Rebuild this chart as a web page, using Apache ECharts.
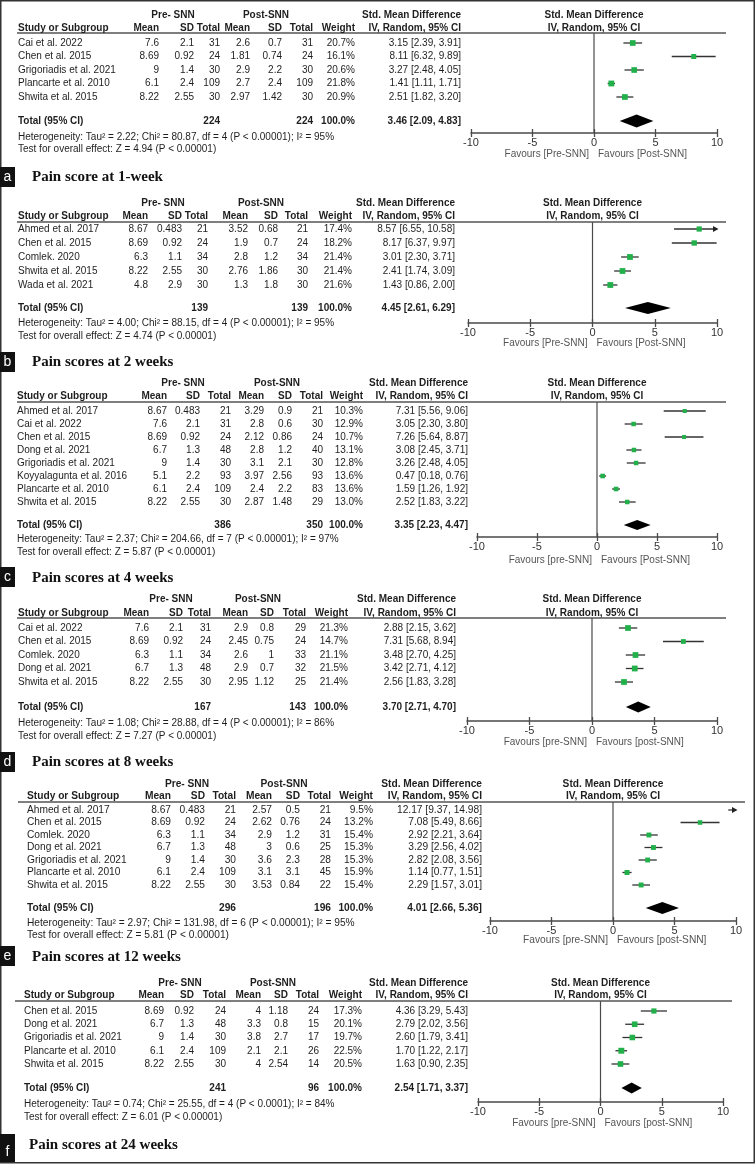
<!DOCTYPE html>
<html><head><meta charset="utf-8">
<script src="https://cdn.jsdelivr.net/npm/echarts@6/dist/echarts.min.js"></script>
<style>html,body{margin:0;padding:0;background:#fff}#c{width:756px;height:1164px}</style>
</head><body><div id="c"></div>
<script>
// ---------------- DATA ----------------
const panelLabels = ['a','b','c','d','e','f'];
const panelTitles = ['Pain score at 1-week','Pain scores at 2 weeks','Pain scores at 4 weeks','Pain scores at 8 weeks','Pain scores at 12 weeks','Pain scores at 24 weeks'];
const studies = [
  ['Cai et al. 2022','Chen et al. 2015','Grigoriadis et al. 2021','Plancarte et al. 2010','Shwita et al. 2015'],
  ['Ahmed et al. 2017','Chen et al. 2015','Comlek. 2020','Shwita et al. 2015','Wada et al. 2021'],
  ['Ahmed et al. 2017','Cai et al. 2022','Chen et al. 2015','Dong et al. 2021','Grigoriadis et al. 2021','Koyyalagunta et al. 2016','Plancarte et al. 2010','Shwita et al. 2015'],
  ['Cai et al. 2022','Chen et al. 2015','Comlek. 2020','Dong et al. 2021','Shwita et al. 2015'],
  ['Ahmed et al. 2017','Chen et al. 2015','Comlek. 2020','Dong et al. 2021','Grigoriadis et al. 2021','Plancarte et al. 2010','Shwita et al. 2015'],
  ['Chen et al. 2015','Dong et al. 2021','Grigoriadis et al. 2021','Plancarte et al. 2010','Shwita et al. 2015']
];
const preMean = [[7.6,8.69,9,6.1,8.22],[8.67,8.69,6.3,8.22,4.8],[8.67,7.6,8.69,6.7,9,5.1,6.1,8.22],[7.6,8.69,6.3,6.7,8.22],[8.67,8.69,6.3,6.7,9,6.1,8.22],[8.69,6.7,9,6.1,8.22]];
const preSD   = [[2.1,0.92,1.4,2.4,2.55],[0.483,0.92,1.1,2.55,2.9],[0.483,2.1,0.92,1.3,1.4,2.2,2.4,2.55],[2.1,0.92,1.1,1.3,2.55],[0.483,0.92,1.1,1.3,1.4,2.4,2.55],[0.92,1.3,1.4,2.4,2.55]];
const preN    = [[31,24,30,109,30],[21,24,34,30,30],[21,31,24,48,30,93,109,30],[31,24,34,48,30],[21,24,34,48,30,109,30],[24,48,30,109,30]];
const postMean= [[2.6,1.81,2.9,2.7,2.97],[3.52,1.9,2.8,2.76,1.3],[3.29,2.8,2.12,2.8,3.1,3.97,2.4,2.87],[2.9,2.45,2.6,2.9,2.95],[2.57,2.62,2.9,3,3.6,3.1,3.53],[4,3.3,3.8,2.1,4]];
const postSD  = [[0.7,0.74,2.2,2.4,1.42],[0.68,0.7,1.2,1.86,1.8],[0.9,0.6,0.86,1.2,2.1,2.56,2.2,1.48],[0.8,0.75,1,0.7,1.12],[0.5,0.76,1.2,0.6,2.3,3.1,0.84],[1.18,0.8,2.7,2.1,2.54]];
const postN   = [[31,24,30,109,30],[21,24,34,30,30],[21,30,24,40,30,93,83,29],[29,24,33,32,25],[21,24,31,25,28,45,22],[24,15,17,26,14]];
const weight  = [[20.7,16.1,20.6,21.8,20.9],[17.4,18.2,21.4,21.4,21.6],[10.3,12.9,10.7,13.1,12.8,13.6,13.6,13.0],[21.3,14.7,21.1,21.5,21.4],[9.5,13.2,15.4,15.3,15.3,15.9,15.4],[17.3,20.1,19.7,22.5,20.5]];
const smd     = [[3.15,8.11,3.27,1.41,2.51],[8.57,8.17,3.01,2.41,1.43],[7.31,3.05,7.26,3.08,3.26,0.47,1.59,2.52],[2.88,7.31,3.48,3.42,2.56],[12.17,7.08,2.92,3.29,2.82,1.14,2.29],[4.36,2.79,2.60,1.70,1.63]];
const ciLo    = [[2.39,6.32,2.48,1.11,1.82],[6.55,6.37,2.30,1.74,0.86],[5.56,2.30,5.64,2.45,2.48,0.18,1.26,1.83],[2.15,5.68,2.70,2.71,1.83],[9.37,5.49,2.21,2.56,2.08,0.77,1.57],[3.29,2.02,1.79,1.22,0.90]];
const ciHi    = [[3.91,9.89,4.05,1.71,3.20],[10.58,9.97,3.71,3.09,2.00],[9.06,3.80,8.87,3.71,4.05,0.76,1.92,3.22],[3.62,8.94,4.25,4.12,3.28],[14.98,8.66,3.64,4.02,3.56,1.51,3.01],[5.43,3.56,3.41,2.17,2.35]];
const totalPre  = [224,139,386,167,296,241];
const totalPost = [224,139,350,143,196,96];
const totalSmd  = [3.46,4.45,3.35,3.70,4.01,2.54];
const totalLo   = [2.09,2.61,2.23,2.71,2.66,1.71];
const totalHi   = [4.83,6.29,4.47,4.70,5.36,3.37];
const hetText = [
  'Heterogeneity: Tau\u00b2 = 2.22; Chi\u00b2 = 80.87, df = 4 (P < 0.00001); I\u00b2 = 95%',
  'Heterogeneity: Tau\u00b2 = 4.00; Chi\u00b2 = 88.15, df = 4 (P < 0.00001); I\u00b2 = 95%',
  'Heterogeneity: Tau\u00b2 = 2.37; Chi\u00b2 = 204.66, df = 7 (P < 0.00001); I\u00b2 = 97%',
  'Heterogeneity: Tau\u00b2 = 1.08; Chi\u00b2 = 28.88, df = 4 (P < 0.00001); I\u00b2 = 86%',
  'Heterogeneity: Tau\u00b2 = 2.97; Chi\u00b2 = 131.98, df = 6 (P < 0.00001); I\u00b2 = 95%',
  'Heterogeneity: Tau\u00b2 = 0.74; Chi\u00b2 = 25.55, df = 4 (P < 0.0001); I\u00b2 = 84%'
];
const testText = [
  'Test for overall effect: Z = 4.94 (P < 0.00001)',
  'Test for overall effect: Z = 4.74 (P < 0.00001)',
  'Test for overall effect: Z = 5.87 (P < 0.00001)',
  'Test for overall effect: Z = 7.27 (P < 0.00001)',
  'Test for overall effect: Z = 5.81 (P < 0.00001)',
  'Test for overall effect: Z = 6.01 (P < 0.00001)'
];
const favLeft  = ['Favours [Pre-SNN]','Favours [Pre-SNN]','Favours [pre-SNN]','Favours [pre-SNN]','Favours [pre-SNN]','Favours [pre-SNN]'];
const favRight = ['Favours [Post-SNN]','Favours [Post-SNN]','Favours [Post-SNN]','Favours [post-SNN]','Favours [post-SNN]','Favours [post-SNN]'];
const xTickValues = [-10,-5,0,5,10];
const colHeads = ['Mean','SD','Total','Mean','SD','Total','Weight'];

// ---------------- LAYOUT (pixel positions) ----------------
const L = [
 {hdr1:15,hdr2:28,line:33,lineL:17,lineR:726,row0:43,rowH:13.5,totY:121,hetY:137,testY:149,axisY:133,favY:154,xL:471,xR:717,studyX:18,cols:[159,194,220,250,282,313,355],ciR:461,preC:173,postC:266,titleX:32,titleY:177,boxY:167,boxH:20,diaH:13,fs:10},
 {hdr1:203,hdr2:216,line:222,lineL:17,lineR:726,row0:229,rowH:14,totY:308,hetY:323,testY:336,axisY:323,favY:343,xL:468,xR:717,studyX:18,cols:[148,182,208,248,278,308,352],ciR:455,preC:163,postC:261,titleX:32,titleY:362,boxY:352,boxH:20,diaH:12,fs:10},
 {hdr1:383,hdr2:396,line:402,lineL:17,lineR:726,row0:411,rowH:13,totY:525,hetY:539,testY:552,axisY:537,favY:560,xL:477,xR:717,studyX:17,cols:[167,200,231,264,292,323,363],ciR:468,preC:183,postC:277,titleX:32,titleY:578,boxY:567,boxH:20,diaH:10,fs:10},
 {hdr1:599,hdr2:613,line:618,lineL:17,lineR:726,row0:628,rowH:13.5,totY:707,hetY:723,testY:736,axisY:721,favY:742,xL:467,xR:717,studyX:18,cols:[149,183,211,248,274,306,348],ciR:456,preC:171,postC:258,titleX:32,titleY:762,boxY:752,boxH:20,diaH:11,fs:10},
 {hdr1:784,hdr2:796,line:802,lineL:18,lineR:745,row0:810,rowH:12.5,totY:908,hetY:923,testY:935,axisY:921,favY:940,xL:490,xR:736,studyX:27,cols:[171,205,236,272,300,331,373],ciR:482,preC:187,postC:284,titleX:32,titleY:957,boxY:946,boxH:20,diaH:12,fs:10.2},
 {hdr1:983,hdr2:995,line:1001,lineL:15,lineR:732,row0:1011,rowH:13.25,totY:1088,hetY:1104,testY:1117,axisY:1102,favY:1123,xL:478,xR:723,studyX:24,cols:[164,194,226,261,288,319,362],ciR:468,preC:180,postC:273,titleX:29,titleY:1145,boxY:1134,boxH:28,diaH:11,fs:10}
];

// ---------------- BUILD ----------------
const FONT = '"Liberation Sans", Arial, Helvetica, sans-serif';
const SERIF = '"Liberation Serif", "Times New Roman", serif';
const INK = '#1e1e1e';
const GREEN = '#22b04b';

function T(x, y, text, o) {
  o = o || {};
  const size = o.size || 10;
  const w = o.bold ? 'bold ' : '';
  const al = o.align || 'left';
  return {type:'text', x:x, y:y, silent:true, z:10,
    style:{text:String(text), font:w + size + 'px ' + (o.fam || FONT), fill:o.color || INK,
      align:al, verticalAlign:'middle', textAlign:al, textVerticalAlign:'middle'}};
}
const fmtNum = v => String(v);
const fmtCI = (e, l, h) => e.toFixed(2) + ' [' + l.toFixed(2) + ', ' + h.toFixed(2) + ']';

const grids = [], xAxes = [], yAxes = [], series = [], graphics = [];

graphics.push({type:'rect', shape:{x:0.75, y:0.75, width:753.5, height:1162}, style:{fill:'none', stroke:'#333', lineWidth:1.5}, silent:true, z:1});

for (let p = 0; p < 6; p++) {
  const l = L[p];
  const fs = l.fs;
  const zeroX = (l.xL + l.xR) / 2;
  grids.push({left:l.xL, top:l.line, width:l.xR - l.xL, height:l.axisY - l.line, containLabel:false, outerBoundsMode:'none'});
  const xMin = xTickValues[0], xMax = xTickValues[xTickValues.length - 1], xInt = xTickValues[1] - xTickValues[0];
  xAxes.push({gridIndex:p, type:'value', min:xMin, max:xMax, interval:xInt, position:'bottom',
    axisLine:{show:true, onZero:false, lineStyle:{color:'#4a4a4a', width:1.5}},
    axisTick:{show:true, length:4, lineStyle:{color:'#4a4a4a', width:1.3}},
    axisLabel:{show:true, margin:4, fontSize:11, color:'#333', fontFamily:FONT},
    splitLine:{show:false}});
  xAxes.push({gridIndex:p, type:'value', min:xMin, max:xMax, interval:xInt, position:'bottom',
    axisLine:{show:false, onZero:false},
    axisTick:{show:true, inside:true, length:4, lineStyle:{color:'#4a4a4a', width:1.3}},
    axisLabel:{show:false}, splitLine:{show:false}});
  yAxes.push({gridIndex:p, type:'value', min:l.line, max:l.axisY, inverse:true, show:false});

  const n = studies[p].length;
  const rows = [];
  for (let i = 0; i < n; i++) rows.push([smd[p][i], ciLo[p][i], ciHi[p][i], weight[p][i], l.row0 + i * l.rowH]);

  // zero line
  series.push({type:'custom', xAxisIndex:2*p, yAxisIndex:p, silent:true, z:2,
    data:[[0, l.line, l.axisY]],
    renderItem:(params, api) => {
      const a = api.coord([api.value(0), api.value(1)]);
      const b = api.coord([api.value(0), api.value(2)]);
      return {type:'line', shape:{x1:a[0], y1:a[1], x2:b[0], y2:b[1]}, style:{stroke:'#4a4a4a', lineWidth:1.2}};
    }});

  // studies
  series.push({type:'custom', xAxisIndex:2*p, yAxisIndex:p, silent:true, z:3, data:rows,
    renderItem:(params, api) => {
      const est = api.value(0), lo = api.value(1), hi = api.value(2), w = api.value(3), yv = api.value(4);
      const yy = api.coord([0, yv])[1];
      const xl = api.coord([Math.max(lo, xMin), yv])[0];
      const xh = api.coord([Math.min(hi, xMax), yv])[0];
      const ch = [{type:'line', shape:{x1:xl, y1:yy, x2:xh, y2:yy}, style:{stroke:'#333', lineWidth:1.3}}];
      if (hi > xMax) ch.push({type:'polygon', shape:{points:[[xh + 1.5, yy], [xh - 4, yy - 3], [xh - 4, yy + 3]]}, style:{fill:'#222'}});
      if (lo < xMin) ch.push({type:'polygon', shape:{points:[[xl - 1.5, yy], [xl + 4, yy - 3], [xl + 4, yy + 3]]}, style:{fill:'#222'}});
      if (est >= xMin && est <= xMax) {
        const s = Math.max(3.5, 1.25 * Math.sqrt(w));
        const xc = api.coord([est, yv])[0];
        ch.push({type:'rect', shape:{x:xc - s/2, y:yy - s/2, width:s, height:s}, style:{fill:GREEN}});
      }
      return {type:'group', children:ch};
    }});

  // diamond
  series.push({type:'custom', xAxisIndex:2*p, yAxisIndex:p, silent:true, z:3,
    data:[[totalSmd[p], totalLo[p], totalHi[p], l.totY, l.diaH]],
    renderItem:(params, api) => {
      const e = api.value(0), lo = api.value(1), hi = api.value(2), yv = api.value(3), h = api.value(4);
      const yy = api.coord([0, yv])[1];
      const xe = api.coord([e, yv])[0], xl = api.coord([lo, yv])[0], xh = api.coord([hi, yv])[0];
      return {type:'polygon', shape:{points:[[xl, yy], [xe, yy - h/2], [xh, yy], [xe, yy + h/2]]}, style:{fill:'#000'}};
    }});

  // ---- table text ----
  graphics.push(T(l.preC, l.hdr1, 'Pre- SNN', {bold:true, size:fs, align:'center'}));
  graphics.push(T(l.postC, l.hdr1, 'Post-SNN', {bold:true, size:fs, align:'center'}));
  graphics.push(T(l.ciR, l.hdr1, 'Std. Mean Difference', {bold:true, size:fs, align:'right'}));
  graphics.push(T(zeroX, l.hdr1, 'Std. Mean Difference', {bold:true, size:fs, align:'center'}));
  graphics.push(T(l.studyX, l.hdr2, 'Study or Subgroup', {bold:true, size:fs}));
  colHeads.forEach((h, k) => graphics.push(T(l.cols[k], l.hdr2, h, {bold:true, size:fs, align:'right'})));
  graphics.push(T(l.ciR, l.hdr2, 'IV, Random, 95% CI', {bold:true, size:fs, align:'right'}));
  graphics.push(T(zeroX, l.hdr2, 'IV, Random, 95% CI', {bold:true, size:fs, align:'center'}));
  graphics.push({type:'line', silent:true, z:5, shape:{x1:l.lineL, y1:l.line, x2:l.lineR, y2:l.line}, style:{stroke:'#555', lineWidth:1.6}});

  for (let i = 0; i < n; i++) {
    const y = l.row0 + i * l.rowH;
    graphics.push(T(l.studyX, y, studies[p][i], {size:fs}));
    const vals = [fmtNum(preMean[p][i]), fmtNum(preSD[p][i]), fmtNum(preN[p][i]), fmtNum(postMean[p][i]), fmtNum(postSD[p][i]), fmtNum(postN[p][i]), weight[p][i].toFixed(1) + '%'];
    vals.forEach((v, k) => graphics.push(T(l.cols[k], y, v, {size:fs, align:'right'})));
    graphics.push(T(l.ciR, y, fmtCI(smd[p][i], ciLo[p][i], ciHi[p][i]), {size:fs, align:'right'}));
  }
  graphics.push(T(l.studyX, l.totY, 'Total (95% CI)', {bold:true, size:fs}));
  graphics.push(T(l.cols[2], l.totY, totalPre[p], {bold:true, size:fs, align:'right'}));
  graphics.push(T(l.cols[5], l.totY, totalPost[p], {bold:true, size:fs, align:'right'}));
  graphics.push(T(l.cols[6], l.totY, '100.0%', {bold:true, size:fs, align:'right'}));
  graphics.push(T(l.ciR, l.totY, fmtCI(totalSmd[p], totalLo[p], totalHi[p]), {bold:true, size:fs, align:'right'}));
  graphics.push(T(l.studyX, l.hetY, hetText[p], {size:fs}));
  graphics.push(T(l.studyX, l.testY, testText[p], {size:fs}));

  graphics.push(T(zeroX - 5, l.favY, favLeft[p], {size:fs, align:'right', color:'#555'}));
  graphics.push(T(zeroX + 4, l.favY, favRight[p], {size:fs, align:'left', color:'#555'}));

  // panel label + title
  graphics.push({type:'rect', silent:true, z:6, shape:{x:0, y:l.boxY, width:15, height:l.boxH}, style:{fill:'#111'}});
  graphics.push(T(7.5, l.boxY + l.boxH/2 + (p === 5 ? 4 : 0), panelLabels[p], {size:14, align:'center', color:'#fff'}));
  graphics.push(T(l.titleX, l.titleY, panelTitles[p], {bold:true, size:15, fam:SERIF, color:'#111'}));
}

const chart = echarts.init(document.getElementById('c'), null, {renderer:'canvas', width:756, height:1164});
chart.setOption({
  animation:false,
  backgroundColor:'#fff',
  grid:grids, xAxis:xAxes, yAxis:yAxes, series:series, graphic:graphics
});
</script>
</body></html>
